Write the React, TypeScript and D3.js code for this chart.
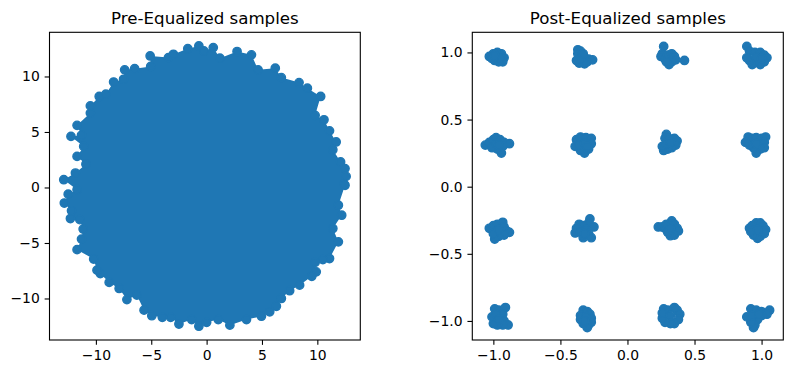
import React, { useEffect, useRef } from 'react';
import * as d3 from 'd3';

// Pre-equalized: outer ring of markers (the interior is solid)
const preX = [
  -12.9, -11.85, -10.9, -11.7, -11.1, -12.25, -11.7, -11.3, -10.5, -10.5, -9.7, -9.1, -8.4, -7.5, -7.4, -6.5,
  -5.1, -5.05, -3.45, -3.0, -1.7, -0.7, -0.25, 0.6, 1.2, 2.75, 4.05, 4.65, 6.2, 6.75, 8.35, 9.1, 10.3, 9.8,
  10.6, 11.1, 11.7, 11.4, 12.1, 12.5, 12.6, 12.4, 12.5, 11.9, 12.2, 11.4, 11.9, 11.1, 10.5, 9.8, 9.9, 9.5,
  8.4, 7.5, 6.75, 6.3, 5.7, 4.95, 3.6, 2.1, 1.05, 0.0, -0.7, -1.35, -2.5, -3.25, -4.0, -4.95, -5.65, -6.3,
  -7.2, -7.9, -8.8, -9.6, -9.9, -10.2, -11.7, -11.3, -11.15, -11.45, -12.3, -12.2, -12.85, -12.5, -11.7,
];
const preY = [
  0.7, 1.3, 2.1, 2.8, 3.7, 4.6, 5.6, 4.7, 6.7, 7.35, 8.2, 8.4, 9.5, 9.75, 10.6, 10.7,
  11.85, 10.9, 11.7, 12.0, 12.5, 12.75, 12.3, 12.6, 11.65, 12.25, 11.95, 10.6, 10.75, 9.9, 9.45, 8.95, 8.2, 6.5,
  6.1, 5.1, 4.1, 3.4, 2.3, 1.7, 1.0, 0.3, 0.2, -1.6, -2.5, -3.7, -4.9, -6.4, -6.5, -6.75, -7.6, -8.0,
  -8.8, -9.3, -10.0, -10.7, -11.2, -11.6, -11.9, -12.4, -11.9, -12.15, -12.5, -11.9, -12.3, -11.7, -11.7, -11.55, -11.05, -9.7,
  -10.1, -9.1, -8.55, -7.75, -7.45, -6.45, -5.6, -4.65, -3.75, -2.9, -2.8, -2.1, -1.4, -0.6, -0.2,
];

// Post-equalized: 16-QAM clusters, one row of arrays per constellation point
const postX = [
  -1.03, -1.0, -0.97, -0.94, -0.92, -0.93, -0.96, -0.99, -0.97, -0.95, -1.01, -0.99,
  -0.37, -0.35, -0.37, -0.34, -0.32, -0.29, -0.26, -0.3, -0.32, -0.36, -0.38, -0.35, -0.33,
  0.27, 0.26, 0.25, 0.28, 0.3, 0.33, 0.35, 0.36, 0.33, 0.31, 0.29, 0.425,
  0.89, 0.91, 0.95, 0.99, 1.02, 1.04, 1.02, 0.99, 0.95, 0.93, 0.91, 0.89, 0.96, 1.0,
  -1.06, -1.03, -1.0, -0.98, -0.95, -0.92, -0.88, -0.93, -0.94, -0.97, -1.01, -0.98, -0.96,
  -0.38, -0.35, -0.31, -0.27, -0.27, -0.29, -0.32, -0.35, -0.39, -0.36, -0.32, -0.3,
  0.29, 0.28, 0.31, 0.35, 0.37, 0.36, 0.33, 0.3, 0.27, 0.26, 0.29, 0.32,
  0.9, 0.93, 0.96, 1.0, 1.03, 1.02, 1.02, 0.99, 0.96, 0.94, 0.91, 0.88, 0.96,
  -1.03, -1.0, -0.97, -0.93, -0.92, -0.9, -0.88, -0.92, -0.96, -0.99, -1.0, -0.96,
  -0.28, -0.29, -0.25, -0.36, -0.33, -0.38, -0.39, -0.35, -0.31, -0.29, -0.33, -0.27, -0.32,
  0.23, 0.26, 0.28, 0.29, 0.33, 0.35, 0.37, 0.38, 0.35, 0.32, 0.3, 0.32,
  0.96, 0.99, 0.93, 0.91, 1.01, 1.03, 1.02, 0.99, 0.97, 0.94, 0.92, 0.97,
  -0.99, -0.96, -0.91, -0.93, -0.94, -0.92, -0.89, -0.93, -0.97, -1.0, -1.01, -0.98, -0.96,
  -0.33, -0.3, -0.28, -0.27, -0.27, -0.29, -0.3, -0.33, -0.35, -0.35, -0.31, -0.32,
  0.27, 0.3, 0.35, 0.37, 0.39, 0.38, 0.35, 0.32, 0.28, 0.26, 0.26, 0.32,
  0.92, 0.96, 1.0, 1.06, 1.04, 1.0, 0.97, 0.95, 0.94, 0.92, 0.89, 0.93, 0.98,
];
const postY = [
  0.97, 0.99, 1.0, 0.99, 0.96, 0.93, 0.93, 0.94, 0.965, 0.96, 0.955, 0.975,
  1.02, 1.01, 0.99, 0.98, 0.96, 0.95, 0.945, 0.93, 0.915, 0.92, 0.94, 0.95, 0.99,
  1.045, 0.99, 0.97, 0.95, 0.98, 0.99, 0.97, 0.945, 0.93, 0.91, 0.93, 0.94,
  1.045, 1.01, 1.0, 1.0, 0.98, 0.96, 0.93, 0.91, 0.93, 0.91, 0.94, 0.96, 0.965, 0.955,
  0.31, 0.33, 0.35, 0.365, 0.35, 0.33, 0.32, 0.3, 0.25, 0.28, 0.29, 0.32, 0.31,
  0.35, 0.37, 0.365, 0.36, 0.32, 0.28, 0.25, 0.27, 0.3, 0.31, 0.32, 0.3,
  0.39, 0.36, 0.36, 0.36, 0.34, 0.31, 0.29, 0.28, 0.27, 0.3, 0.32, 0.33,
  0.37, 0.36, 0.365, 0.36, 0.37, 0.33, 0.29, 0.28, 0.25, 0.29, 0.31, 0.33, 0.32,
  -0.31, -0.29, -0.28, -0.265, -0.3, -0.33, -0.34, -0.36, -0.37, -0.39, -0.35, -0.32,
  -0.24, -0.27, -0.3, -0.28, -0.29, -0.31, -0.345, -0.34, -0.32, -0.35, -0.38, -0.38, -0.35,
  -0.3, -0.3, -0.31, -0.28, -0.255, -0.28, -0.31, -0.33, -0.36, -0.365, -0.34, -0.31,
  -0.27, -0.27, -0.29, -0.31, -0.29, -0.32, -0.35, -0.37, -0.385, -0.36, -0.335, -0.32,
  -0.91, -0.92, -0.9, -0.95, -0.99, -1.0, -1.03, -1.03, -1.03, -1.02, -0.97, -0.95, -0.99,
  -0.92, -0.93, -0.95, -0.98, -1.01, -1.03, -1.05, -1.02, -0.99, -0.96, -0.97, -1.0,
  -0.91, -0.92, -0.9, -0.92, -0.95, -0.99, -1.02, -1.02, -1.01, -0.98, -0.94, -0.96,
  -0.91, -0.92, -0.93, -0.92, -0.95, -0.96, -0.99, -1.03, -1.05, -1.01, -0.97, -0.96, -0.95,
];

const preTicks = [-10, -5, 0, 5, 10];
const postTicks = [-1, -0.5, 0, 0.5, 1];

const W = 792;
const H = 374;
const BLUE = '#1f77b4';
const R = 4.17;
const FONT = 'DejaVu Sans, sans-serif';

const App: React.FC = () => {
  const svgRef = useRef<SVGSVGElement | null>(null);

  useEffect(() => {
    if (!svgRef.current) return;
    const svg = d3.select(svgRef.current);
    svg.selectAll('*').remove();

    const top = 32.3;
    const bottom = 340;

    const panel = (
      left: number,
      right: number,
      xDom: [number, number],
      yDom: [number, number],
      ticks: number[],
      fmt: (v: number) => string,
      title: string,
    ) => {
      const x = d3.scaleLinear().domain(xDom).range([left, right]);
      const y = d3.scaleLinear().domain(yDom).range([bottom, top]);
      const g = svg.append('g');
      const clipId = `clip-${Math.round(left)}`;
      svg
        .append('clipPath')
        .attr('id', clipId)
        .append('rect')
        .attr('x', left)
        .attr('y', top)
        .attr('width', right - left)
        .attr('height', bottom - top);
      const plot = g.append('g').attr('clip-path', `url(#${clipId})`);

      const xAxis = g
        .append('g')
        .attr('transform', `translate(0,${bottom})`)
        .call(d3.axisBottom(x).tickValues(ticks).tickFormat(fmt as any).tickSize(4.86).tickPadding(4.86).tickSizeOuter(0));
      const yAxis = g
        .append('g')
        .attr('transform', `translate(${left},0)`)
        .call(d3.axisLeft(y).tickValues(ticks).tickFormat(fmt as any).tickSize(4.86).tickPadding(4.86).tickSizeOuter(0));
      [xAxis, yAxis].forEach((a) => {
        a.select('.domain').remove();
        a.selectAll('line').attr('stroke', '#000').attr('stroke-width', 1.1);
        a.selectAll('text').attr('font-family', FONT).attr('font-size', 13.9).attr('fill', '#000');
      });

      g.append('rect')
        .attr('x', left)
        .attr('y', top)
        .attr('width', right - left)
        .attr('height', bottom - top)
        .attr('fill', 'none')
        .attr('stroke', '#000')
        .attr('stroke-width', 1.1);

      g.append('text')
        .attr('x', (left + right) / 2)
        .attr('y', 24)
        .attr('text-anchor', 'middle')
        .attr('font-family', FONT)
        .attr('font-size', 16.67)
        .text(title);

      return { x, y, plot };
    };

    // Left panel
    const L = panel(49.5, 360.3, [-14.19, 13.88], [-13.74, 13.98], preTicks, d3.format('d'), 'Pre-Equalized samples');
    const pre = preX.map((v, i) => [v, preY[i]] as [number, number]);
    const ring = pre.slice().sort((a, b) => Math.atan2(a[1], a[0]) - Math.atan2(b[1], b[0]));
    L.plot
      .append('path')
      .datum(ring)
      .attr('fill', BLUE)
      .attr('d', d3.line<[number, number]>().x((d) => L.x(d[0])).y((d) => L.y(d[1])).curve(d3.curveLinearClosed));
    L.plot
      .selectAll('circle')
      .data(pre)
      .join('circle')
      .attr('cx', (d) => L.x(d[0]))
      .attr('cy', (d) => L.y(d[1]))
      .attr('r', R)
      .attr('fill', BLUE)
      .attr('stroke', BLUE)
      .attr('stroke-width', 1.4);

    // Right panel
    const P = panel(472.3, 783.3, [-1.157, 1.162], [-1.142, 1.15], postTicks, d3.format('.1f'), 'Post-Equalized samples');
    const post = postX.map((v, i) => [v, postY[i]] as [number, number]);
    P.plot
      .selectAll('circle')
      .data(post)
      .join('circle')
      .attr('cx', (d) => P.x(d[0]))
      .attr('cy', (d) => P.y(d[1]))
      .attr('r', R)
      .attr('fill', BLUE)
      .attr('stroke', BLUE)
      .attr('stroke-width', 1.4);
  }, []);

  return (
    <div style={{ position: 'absolute', left: 0, top: 0 }}>
      <svg ref={svgRef} width={W} height={H} style={{ display: 'block', background: '#fff' }} />
    </div>
  );
};

export default App;
